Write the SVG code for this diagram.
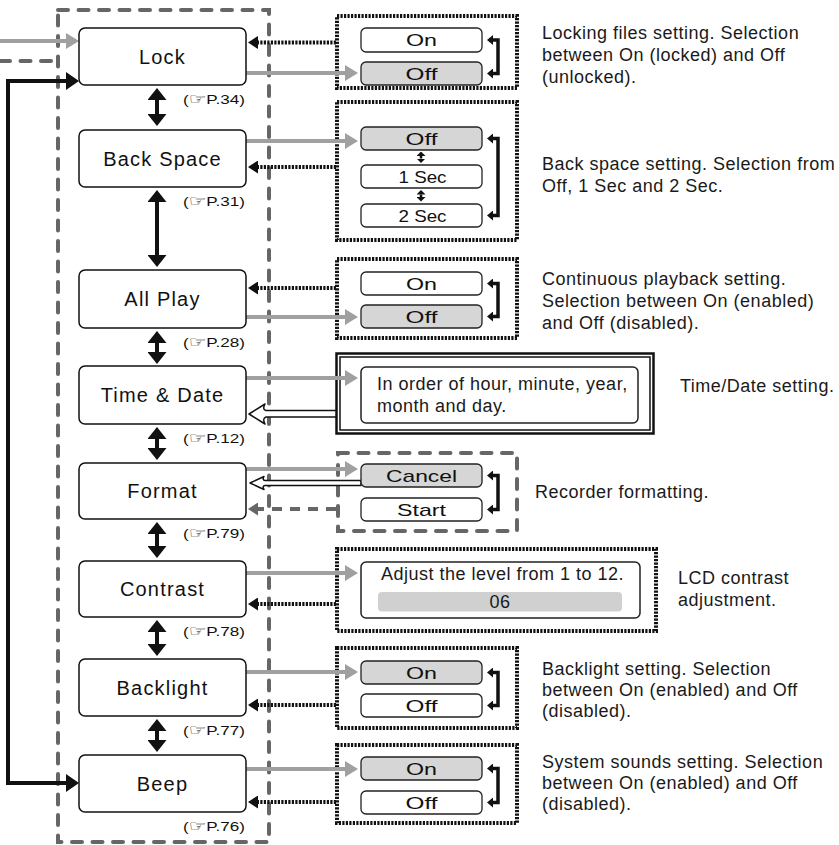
<svg xmlns="http://www.w3.org/2000/svg" width="839" height="845" viewBox="0 0 839 845">
<style>
.node{fill:#fff;stroke:#111;stroke-width:1.5}
.nl{font-family:"Liberation Sans","DejaVu Sans",sans-serif;font-size:20px;letter-spacing:1.2px;fill:#111;text-anchor:middle}
.ref{font-family:"Liberation Sans","DejaVu Sans",sans-serif;font-size:13px;fill:#111}
.hand{font-family:"DejaVu Sans",sans-serif;font-size:15px}
.desc{font-family:"Liberation Sans",sans-serif;font-size:18px;letter-spacing:0.5px;fill:#1a1a1a}
.opt{stroke:#222;stroke-width:1.3}
.ow{fill:#fff}
.og{fill:#d6d6d6}
.ol{font-family:"Liberation Sans",sans-serif;font-size:17px;fill:#111;text-anchor:middle}
.dotbox{fill:none;stroke:#111;stroke-width:4;stroke-dasharray:2.2 1.3}
.dashbox{fill:none;stroke:#666;stroke-width:4;stroke-dasharray:10 10.5;stroke-linecap:round}
.gray{stroke:#a0a0a0;stroke-width:4;fill:none;marker-end:url(#gh)}
.dot{stroke:#111;stroke-width:4;stroke-dasharray:2.2 1.3;fill:none;marker-end:url(#bh)}
.dbl{stroke:#111;stroke-width:4;fill:none;marker-start:url(#vh);marker-end:url(#vh)}
.sdbl{stroke:#111;stroke-width:2.5;fill:none;marker-start:url(#sh);marker-end:url(#sh)}
.brk{stroke:#111;stroke-width:3.5;fill:none;marker-start:url(#kh);marker-end:url(#kh)}
.hollow{fill:#fff;stroke:#111;stroke-width:1.5;stroke-linejoin:round}
</style>
<defs>
<marker id="gh" markerUnits="userSpaceOnUse" markerWidth="13" markerHeight="16" refX="0" refY="8" orient="auto-start-reverse"><path d="M0,0 L13,8 L0,16 z" fill="#a0a0a0"/></marker>
<marker id="bh" markerUnits="userSpaceOnUse" markerWidth="10" markerHeight="13" refX="0" refY="6.5" orient="auto-start-reverse"><path d="M0,0 L10,6.5 L0,13 z" fill="#111"/></marker>
<marker id="dh" markerUnits="userSpaceOnUse" markerWidth="10" markerHeight="13" refX="0" refY="6.5" orient="auto-start-reverse"><path d="M0,0 L10,6.5 L0,13 z" fill="#666"/></marker>
<marker id="vh" markerUnits="userSpaceOnUse" markerWidth="12" markerHeight="19" refX="0" refY="9.5" orient="auto-start-reverse"><path d="M0,0 L12,9.5 L0,19 z" fill="#111"/></marker>
<marker id="sh" markerUnits="userSpaceOnUse" markerWidth="4.5" markerHeight="9" refX="0" refY="4.5" orient="auto-start-reverse"><path d="M0,0 L4.5,4.5 L0,9 z" fill="#111"/></marker>
<marker id="kh" markerUnits="userSpaceOnUse" markerWidth="6" markerHeight="10" refX="0" refY="5" orient="auto-start-reverse"><path d="M0,0 L6,5 L0,10 z" fill="#111"/></marker>
<marker id="lh" markerUnits="userSpaceOnUse" markerWidth="13" markerHeight="18" refX="0" refY="9" orient="auto-start-reverse"><path d="M0,0 L13,9 L0,18 z" fill="#111"/></marker>
</defs>

<g id="outer-frame">
<rect class="dashbox" x="58" y="10" width="211" height="832"/>
<line x1="0" y1="61" x2="58" y2="61" stroke="#666" stroke-width="4" stroke-dasharray="10 10.5" stroke-linecap="round"/>
</g>

<g id="option-frames">
<rect class="dotbox" x="337" y="16" width="180" height="72"/>
<rect class="dotbox" x="337" y="102" width="180" height="138"/>
<rect class="dotbox" x="337" y="259" width="180" height="79"/>
<g id="timedate-frame">
<rect x="336.5" y="353.5" width="317" height="80" fill="#fff" stroke="#111" stroke-width="2.5"/>
<rect x="340" y="357" width="310" height="73" fill="none" stroke="#111" stroke-width="1.5"/>
</g>
<rect class="dashbox" x="338" y="453" width="179" height="78"/>
<rect class="dotbox" x="337" y="549" width="319" height="82"/>
<rect class="dotbox" x="337" y="648" width="180" height="80"/>
<rect class="dotbox" x="337" y="745" width="180" height="78"/>
</g>

<g id="connectors">
<line class="gray" x1="0" y1="41" x2="66" y2="41"/>
<polyline points="66,783 8,783 8,81 66,81" stroke="#111" stroke-width="4" fill="none" marker-start="url(#lh)" marker-end="url(#lh)"/>
<line class="dbl" x1="157" y1="100" x2="157" y2="114"/>
<line class="dbl" x1="157" y1="202" x2="157" y2="255"/>
<line class="dbl" x1="157" y1="343" x2="157" y2="352"/>
<line class="dbl" x1="157" y1="439" x2="157" y2="448"/>
<line class="dbl" x1="157" y1="534" x2="157" y2="546"/>
<line class="dbl" x1="157" y1="632" x2="157" y2="644"/>
<line class="dbl" x1="157" y1="731" x2="157" y2="740"/>
<line class="dot" x1="336" y1="42.5" x2="258" y2="42.5"/>
<line class="gray" x1="246" y1="73" x2="345" y2="73"/>
<line class="gray" x1="246" y1="141" x2="345" y2="141"/>
<line class="dot" x1="336" y1="167" x2="258" y2="167"/>
<line class="dot" x1="336" y1="288" x2="258" y2="288"/>
<line class="gray" x1="246" y1="317" x2="345" y2="317"/>
<line class="gray" x1="246" y1="378" x2="345" y2="378"/>
<path class="hollow" d="M249,414 L265,404 Q262,409.5 266,410.5 L336,410.5 L336,417 L266,417 Q262,418.5 265,424 Z"/>
<line class="gray" x1="246" y1="469" x2="345" y2="469"/>
<path class="hollow" d="M250,483 L264,476.5 Q262,480 265,480.5 L361,480.5 L361,485.5 L265,485.5 Q262,486 264,489.5 Z"/>
<line x1="336" y1="509" x2="258" y2="509" stroke="#666" stroke-width="4" stroke-dasharray="10 8" marker-end="url(#dh)"/>
<line class="gray" x1="246" y1="573" x2="345" y2="573"/>
<line class="dot" x1="336" y1="604" x2="258" y2="604"/>
<line class="gray" x1="246" y1="672" x2="345" y2="672"/>
<line class="dot" x1="336" y1="705" x2="258" y2="705"/>
<line class="gray" x1="246" y1="769" x2="345" y2="769"/>
<line class="dot" x1="336" y1="802" x2="258" y2="802"/>
<polyline class="brk" points="493,40 498,40 498,73.5 493,73.5"/>
<polyline class="brk" points="493,138.5 498,138.5 498,215.5 493,215.5"/>
<polyline class="brk" points="493,283.5 498,283.5 498,316.5 493,316.5"/>
<polyline class="brk" points="493,475.5 498,475.5 498,509.5 493,509.5"/>
<polyline class="brk" points="493,672.5 498,672.5 498,705.5 493,705.5"/>
<polyline class="brk" points="493,768.5 498,768.5 498,802.5 493,802.5"/>
<line class="sdbl" x1="421" y1="156" x2="421" y2="158.5"/>
<line class="sdbl" x1="421" y1="194.5" x2="421" y2="197"/>
</g>

<g id="lock">
<rect class="node" x="79" y="28" width="167" height="57" rx="6"/>
<text class="nl" x="162.5" y="64">Lock</text>
<text class="ref" x="183" y="104" textLength="62" lengthAdjust="spacingAndGlyphs">(<tspan class="hand">☞</tspan>P.34)</text>
</g>
<g id="backspace">
<rect class="node" x="79" y="130" width="167" height="57" rx="6"/>
<text class="nl" x="162.5" y="165.5">Back Space</text>
<text class="ref" x="183" y="206" textLength="62" lengthAdjust="spacingAndGlyphs">(<tspan class="hand">☞</tspan>P.31)</text>
</g>
<g id="allplay">
<rect class="node" x="79" y="270" width="167" height="58" rx="6"/>
<text class="nl" x="162.5" y="306">All Play</text>
<text class="ref" x="183" y="347" textLength="62" lengthAdjust="spacingAndGlyphs">(<tspan class="hand">☞</tspan>P.28)</text>
</g>
<g id="timedate">
<rect class="node" x="79" y="366" width="167" height="58" rx="6"/>
<text class="nl" x="162.5" y="402">Time &amp; Date</text>
<text class="ref" x="183" y="443" textLength="62" lengthAdjust="spacingAndGlyphs">(<tspan class="hand">☞</tspan>P.12)</text>
</g>
<g id="format">
<rect class="node" x="79" y="463" width="167" height="56" rx="6"/>
<text class="nl" x="162.5" y="498">Format</text>
<text class="ref" x="183" y="538" textLength="62" lengthAdjust="spacingAndGlyphs">(<tspan class="hand">☞</tspan>P.79)</text>
</g>
<g id="contrast">
<rect class="node" x="79" y="561" width="167" height="56" rx="6"/>
<text class="nl" x="162.5" y="596">Contrast</text>
<text class="ref" x="183" y="636" textLength="62" lengthAdjust="spacingAndGlyphs">(<tspan class="hand">☞</tspan>P.78)</text>
</g>
<g id="backlight">
<rect class="node" x="79" y="659" width="167" height="57" rx="6"/>
<text class="nl" x="162.5" y="694.5">Backlight</text>
<text class="ref" x="183" y="735" textLength="62" lengthAdjust="spacingAndGlyphs">(<tspan class="hand">☞</tspan>P.77)</text>
</g>
<g id="beep">
<rect class="node" x="79" y="755" width="167" height="57" rx="6"/>
<text class="nl" x="162.5" y="790.5">Beep</text>
<text class="ref" x="183" y="831" textLength="62" lengthAdjust="spacingAndGlyphs">(<tspan class="hand">☞</tspan>P.76)</text>
</g>

<g id="lock-options">
<rect class="opt ow" x="361" y="28" width="121" height="24" rx="5"/>
<text class="ol" x="421.5" y="46" textLength="31" lengthAdjust="spacingAndGlyphs">On</text>
<rect class="opt og" x="361" y="62" width="121" height="23" rx="5"/>
<text class="ol" x="421.5" y="79.5" textLength="32" lengthAdjust="spacingAndGlyphs">Off</text>
</g>
<g id="backspace-options">
<rect class="opt og" x="361" y="127" width="121" height="23" rx="5"/>
<text class="ol" x="421.5" y="144.5" textLength="32" lengthAdjust="spacingAndGlyphs">Off</text>
<rect class="opt ow" x="361" y="165" width="121" height="23" rx="5"/>
<text class="ol" x="422.5" y="182.5" textLength="48" lengthAdjust="spacingAndGlyphs">1 Sec</text>
<rect class="opt ow" x="361" y="204" width="121" height="23" rx="5"/>
<text class="ol" x="422.5" y="221.5" textLength="48" lengthAdjust="spacingAndGlyphs">2 Sec</text>
</g>
<g id="allplay-options">
<rect class="opt ow" x="361" y="272" width="121" height="23" rx="5"/>
<text class="ol" x="421.5" y="289.5" textLength="31" lengthAdjust="spacingAndGlyphs">On</text>
<rect class="opt og" x="361" y="305" width="121" height="23" rx="5"/>
<text class="ol" x="421.5" y="322.5" textLength="32" lengthAdjust="spacingAndGlyphs">Off</text>
</g>
<g id="timedate-box">
<rect x="361" y="367" width="277" height="56" rx="5" fill="#fff" stroke="#222" stroke-width="1.5"/>
<text class="desc" x="377" y="390">In order of hour, minute, year,</text>
<text class="desc" x="377" y="412">month and day.</text>
</g>
<g id="format-options">
<rect class="opt og" x="361" y="464" width="121" height="23" rx="5"/>
<text class="ol" x="421.5" y="481.5" textLength="71" lengthAdjust="spacingAndGlyphs">Cancel</text>
<rect class="opt ow" x="361" y="498" width="121" height="23" rx="5"/>
<text class="ol" x="421.5" y="515.5" textLength="49" lengthAdjust="spacingAndGlyphs">Start</text>
</g>
<g id="contrast-box">
<rect x="361" y="562" width="279" height="56" rx="5" fill="#fff" stroke="#222" stroke-width="1.5"/>
<text class="desc" x="381" y="580">Adjust the level from 1 to 12.</text>
<rect x="378" y="592" width="244" height="19.5" rx="4" fill="#d0d0d0"/>
<text class="desc" x="500" y="608" text-anchor="middle">06</text>
</g>
<g id="backlight-options">
<rect class="opt og" x="361" y="661" width="121" height="23" rx="5"/>
<text class="ol" x="421.5" y="678.5" textLength="31" lengthAdjust="spacingAndGlyphs">On</text>
<rect class="opt ow" x="361" y="694" width="121" height="23" rx="5"/>
<text class="ol" x="421.5" y="711.5" textLength="32" lengthAdjust="spacingAndGlyphs">Off</text>
</g>
<g id="beep-options">
<rect class="opt og" x="361" y="757" width="121" height="23" rx="5"/>
<text class="ol" x="421.5" y="774.5" textLength="31" lengthAdjust="spacingAndGlyphs">On</text>
<rect class="opt ow" x="361" y="791" width="121" height="23" rx="5"/>
<text class="ol" x="421.5" y="808.5" textLength="32" lengthAdjust="spacingAndGlyphs">Off</text>
</g>

<g id="descriptions">
<text class="desc" x="542" y="39">Locking files setting. Selection</text>
<text class="desc" x="542" y="61">between On (locked) and Off</text>
<text class="desc" x="542" y="83">(unlocked).</text>
<text class="desc" x="542" y="170">Back space setting. Selection from</text>
<text class="desc" x="542" y="192">Off, 1 Sec and 2 Sec.</text>
<text class="desc" x="542" y="285">Continuous playback setting.</text>
<text class="desc" x="542" y="307">Selection between On (enabled)</text>
<text class="desc" x="542" y="329">and Off (disabled).</text>
<text class="desc" x="680" y="392">Time/Date setting.</text>
<text class="desc" x="535" y="498">Recorder formatting.</text>
<text class="desc" x="678" y="584">LCD contrast</text>
<text class="desc" x="678" y="606">adjustment.</text>
<text class="desc" x="542" y="675">Backlight setting. Selection</text>
<text class="desc" x="542" y="696">between On (enabled) and Off</text>
<text class="desc" x="542" y="717">(disabled).</text>
<text class="desc" x="542" y="768">System sounds setting. Selection</text>
<text class="desc" x="542" y="789">between On (enabled) and Off</text>
<text class="desc" x="542" y="810">(disabled).</text>
</g>
</svg>
